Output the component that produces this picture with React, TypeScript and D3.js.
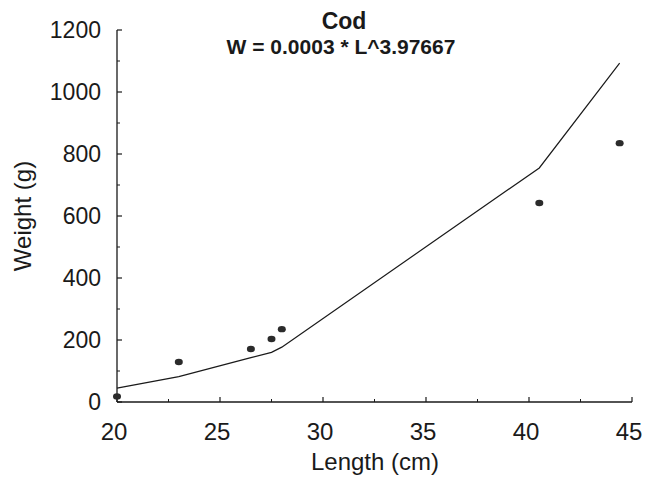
import * as d3 from 'd3'

const lengths = [20, 23, 26.5, 27.5, 28, 40.5, 44.4]
const weights = [18, 129, 171, 203, 235, 642, 835]
const fitted = [45, 82, 143, 160, 177, 755, 1093]

const xTicks = [20, 25, 30, 35, 40, 45]
const yTicks = [0, 200, 400, 600, 800, 1000, 1200]
const xMinor = [22.5, 27.5, 32.5, 37.5, 42.5]
const yMinor = [100, 300, 500, 700, 900, 1100]

const W = 655
const H = 479
const FONT = '"Liberation Sans", Arial, sans-serif'
const INK = '#1a1a1a'

export default function App() {
  const x = d3.scaleLinear().domain([20, 45]).range([117, 632])
  const y = d3.scaleLinear().domain([0, 1200]).range([402, 30])

  const pts = lengths.map((l, i) => ({ l, w: weights[i], f: fitted[i] }))

  const line = d3.line<{ l: number; f: number }>()
    .x(d => x(d.l))
    .y(d => y(d.f))

  const x0 = x.range()[0]
  const y0 = y.range()[0]

  return (
    <svg width={W} height={H} style={{ position: 'absolute', left: 0, top: 0, background: '#fff' }}
      fontFamily={FONT}>
      {/* title */}
      <text x={344} y={29} textAnchor="middle" fontSize={23} fontWeight="bold" fill={INK}>Cod</text>
      <text x={341} y={54} textAnchor="middle" fontSize={21} fontWeight="bold" fill={INK}>
        W = 0.0003 * L^3.97667
      </text>

      {/* axes */}
      <line x1={x0} x2={x0} y1={y(1200)} y2={y0} stroke={INK} strokeWidth={1.3} />
      <line x1={x0} x2={x(45)} y1={y0} y2={y0} stroke={INK} strokeWidth={1.3} />

      {yTicks.map(t => (
        <g key={'y' + t}>
          <line x1={x0} x2={x0 + 5} y1={y(t)} y2={y(t)} stroke={INK} strokeWidth={1.2} />
          <text x={101} y={y(t)} dy="0.36em" textAnchor="end" fontSize={23} fill={INK}>{t}</text>
        </g>
      ))}
      {yMinor.map(t => (
        <line key={'ym' + t} x1={x0} x2={x0 + 3} y1={y(t)} y2={y(t)} stroke={INK} strokeWidth={1} />
      ))}

      {xTicks.map(t => (
        <g key={'x' + t}>
          <line x1={x(t)} x2={x(t)} y1={y0} y2={y0 - 5} stroke={INK} strokeWidth={1.2} />
          <text x={x(t) - 3} y={440} textAnchor="middle" fontSize={24} fill={INK}>{t}</text>
        </g>
      ))}
      {xMinor.map(t => (
        <line key={'xm' + t} x1={x(t)} x2={x(t)} y1={y0} y2={y0 - 3} stroke={INK} strokeWidth={1} />
      ))}

      {/* axis titles */}
      <text x={375} y={470} textAnchor="middle" fontSize={24} fill={INK}>Length (cm)</text>
      <text transform={`translate(31,216) rotate(-90)`} textAnchor="middle" fontSize={24} fill={INK}>
        Weight (g)
      </text>

      {/* fitted curve */}
      <path d={line(pts) || ''} fill="none" stroke={INK} strokeWidth={1.2} />

      {/* observations */}
      {pts.map((p, i) => (
        <ellipse key={i} cx={x(p.l)} cy={y(p.w)} rx={4} ry={3.2} fill="#2b2b2b" />
      ))}
    </svg>
  )
}
